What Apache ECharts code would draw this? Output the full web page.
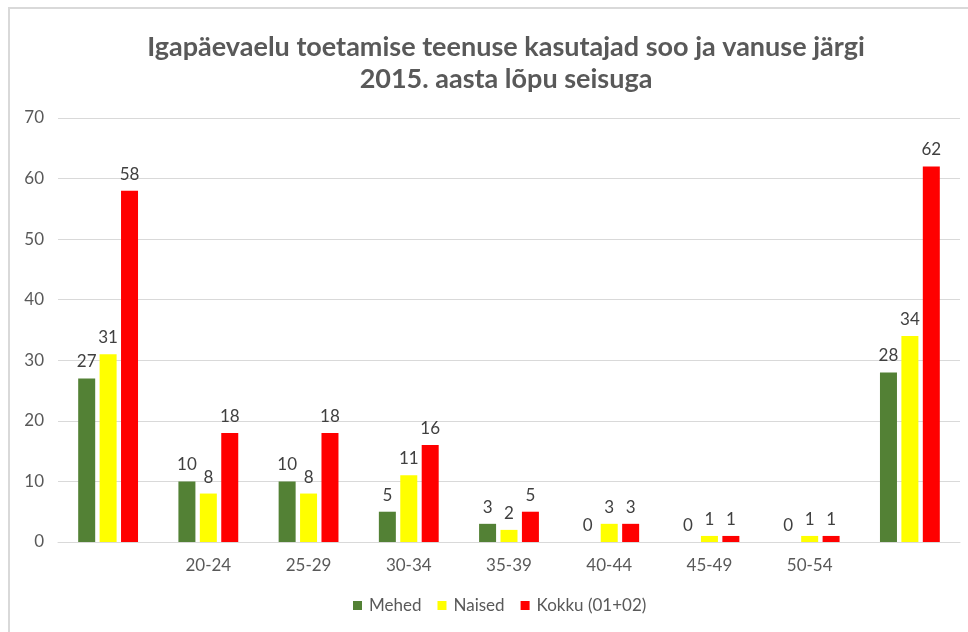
<!DOCTYPE html>
<html>
<head>
<meta charset="utf-8">
<script src="https://cdn.jsdelivr.net/npm/echarts@6/dist/echarts.min.js"></script>
<style>
  html, body { margin: 0; padding: 0; background: #fff; }
  #chart { width: 968px; height: 632px; }
</style>
</head>
<body>
<div id="chart"></div>
<script>
var categories = ['', '20-24', '25-29', '30-34', '35-39', '40-44', '45-49', '50-54', ''];
var mehed = [27, 10, 10, 5, 3, 0, 0, 0, 28];
var naised = [31, 8, 8, 11, 2, 3, 1, 1, 34];
var kokku = [58, 18, 18, 16, 5, 3, 1, 1, 62];
var yTicks = [0, 10, 20, 30, 40, 50, 60, 70];

var font = 'Lato, "Open Sans", sans-serif';

var chart = echarts.init(document.getElementById('chart'));

function barSeries(name, data, color) {
    return {
        name: name,
        type: 'bar',
        data: data,
        barWidth: 17,
        barGap: '26%',
        itemStyle: { color: color },
        label: {
            show: true,
            position: 'top',
            distance: 8,
            color: '#404040',
            fontSize: 17,
            fontFamily: font
        }
    };
}

chart.setOption({
    animation: false,
    title: {
        text: 'Igapäevaelu toetamise teenuse kasutajad soo ja vanuse järgi\n2015. aasta lõpu seisuga',
        left: 501,
        textAlign: 'center',
        top: 26,
        textStyle: {
            fontFamily: font,
            fontSize: 27,
            fontWeight: 'bold',
            color: '#595959',
            lineHeight: 32
        }
    },
    legend: {
        bottom: 13,
        left: 348,
        itemWidth: 9,
        itemHeight: 9,
        itemGap: 16,
        icon: 'rect',
        textStyle: { fontFamily: font, fontSize: 17, color: '#595959', padding: [0, 0, 0, 2] },
        data: ['Mehed', 'Naised', 'Kokku (01+02)']
    },
    grid: { left: 58, right: 8, top: 118, bottom: 90 },
    xAxis: {
        type: 'category',
        data: categories,
        axisLine: { lineStyle: { color: '#d9d9d9', width: 1 } },
        axisTick: { show: false },
        axisLabel: { color: '#595959', fontSize: 17, fontFamily: font, margin: 15 }
    },
    yAxis: {
        type: 'value',
        min: yTicks[0],
        max: yTicks[yTicks.length - 1],
        interval: 10,
        axisLine: { show: false },
        axisTick: { show: false },
        splitLine: { lineStyle: { color: '#d9d9d9' } },
        axisLabel: { color: '#595959', fontSize: 17, fontFamily: font, margin: 14 }
    },
    graphic: [
        { type: 'line', shape: { x1: 8, y1: 8, x2: 968, y2: 8 }, style: { stroke: '#d9d9d9', lineWidth: 2 } },
        { type: 'line', shape: { x1: 9, y1: 8, x2: 9, y2: 632 }, style: { stroke: '#d9d9d9', lineWidth: 2 } }
    ],
    series: [
        barSeries('Mehed', mehed, '#538135'),
        barSeries('Naised', naised, '#ffff00'),
        barSeries('Kokku (01+02)', kokku, '#ff0000')
    ]
});
</script>
</body>
</html>
